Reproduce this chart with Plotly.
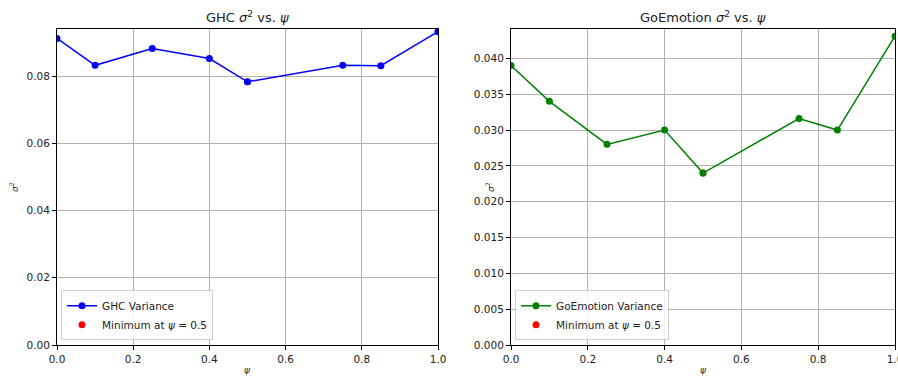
import plotly.graph_objects as go

psi = [0.0, 0.1, 0.25, 0.4, 0.5, 0.75, 0.85, 1.0]
ghc_var = [0.0912, 0.0832, 0.0882, 0.0852, 0.0783, 0.0832, 0.0831, 0.0932]
goe_var = [0.0390, 0.0340, 0.0280, 0.0300, 0.0240, 0.0316, 0.0300, 0.0431]
min_psi = 0.5
ghc_min = 0.0783
goe_min = 0.0240

xticks = [0.0, 0.2, 0.4, 0.6, 0.8, 1.0]
ghc_yticks = [0.0, 0.02, 0.04, 0.06, 0.08]
goe_yticks = [0.0, 0.005, 0.010, 0.015, 0.020, 0.025, 0.030, 0.035, 0.040]

W, H = 898, 376
font = "DejaVu Sans"

fig = go.Figure()

# minimum markers (drawn first, underneath)
fig.add_trace(go.Scatter(x=[min_psi], y=[ghc_min], mode="markers",
                         marker=dict(color="red", size=7), name="Minimum at <i>ψ</i> = 0.5",
                         xaxis="x", yaxis="y", legend="legend", legendrank=2))
fig.add_trace(go.Scatter(x=psi, y=ghc_var, mode="lines+markers",
                         line=dict(color="blue", width=1.5), marker=dict(color="blue", size=7),
                         name="GHC Variance", xaxis="x", yaxis="y", legend="legend", legendrank=1))
fig.add_trace(go.Scatter(x=[min_psi], y=[goe_min], mode="markers",
                         marker=dict(color="red", size=7), name="Minimum at <i>ψ</i> = 0.5",
                         xaxis="x2", yaxis="y2", legend="legend2", legendrank=2))
fig.add_trace(go.Scatter(x=psi, y=goe_var, mode="lines+markers",
                         line=dict(color="green", width=1.5), marker=dict(color="green", size=7),
                         name="GoEmotion Variance", xaxis="x2", yaxis="y2", legend="legend2", legendrank=1))

L1, R1 = 57 / W, 438 / W
L2, R2 = 511 / W, 895 / W

axis_common = dict(showline=True, linecolor="black", linewidth=1, mirror=True,
                   ticks="outside", ticklen=4, tickcolor="black",
                   showgrid=True, gridcolor="#b0b0b0", gridwidth=0.8,
                   zeroline=False, tickfont=dict(size=10.5, family=font, color="#222"),
                   automargin=False, ticklabeloverflow="allow")

legend_common = dict(y=0.015, xanchor="left", yanchor="bottom",
                     bgcolor="rgba(255,255,255,0.85)", bordercolor="#d0d0d0", borderwidth=1,
                     font=dict(size=10.5, family=font, color="#222"), tracegroupgap=0,
                     itemwidth=30)

fig.update_layout(
    width=W, height=H,
    margin=dict(l=0, r=0, t=29, b=31),
    paper_bgcolor="white", plot_bgcolor="white",
    font=dict(family=font, color="#222"),
    xaxis=dict(domain=[L1, R1], range=[0, 1], tickvals=xticks,
               ticktext=[f"{v:.1f}" for v in xticks], anchor="y", **axis_common),
    yaxis=dict(domain=[0, 1], range=[0, 0.094], tickvals=ghc_yticks,
               ticktext=[f"{v:.2f}" for v in ghc_yticks], anchor="x", **axis_common),
    xaxis2=dict(domain=[L2, R2], range=[0, 1], tickvals=xticks,
                ticktext=[f"{v:.1f}" for v in xticks], anchor="y2", **axis_common),
    yaxis2=dict(domain=[0, 1], range=[0, 0.0441], tickvals=goe_yticks,
                ticktext=[f"{v:.3f}" for v in goe_yticks], anchor="x2", **axis_common),
    legend=dict(x=L1 + 4 / W, **legend_common),
    legend2=dict(x=L2 + 4 / W, **legend_common),
    annotations=[
        dict(text="GHC <i>σ</i><sup>2</sup> vs. <i>ψ</i>", x=(L1 + R1) / 2, y=1, xref="paper", yref="paper",
             xanchor="center", yanchor="bottom", yshift=2, showarrow=False, font=dict(size=13, family=font)),
        dict(text="GoEmotion <i>σ</i><sup>2</sup> vs. <i>ψ</i>", x=(L2 + R2) / 2, y=1, xref="paper", yref="paper",
             xanchor="center", yanchor="bottom", yshift=2, showarrow=False, font=dict(size=13, family=font)),
        dict(text="<i>σ</i><sup>2</sup>", x=14 / W, y=0.5, xref="paper", yref="paper", textangle=-90,
             xanchor="center", yanchor="middle", showarrow=False, font=dict(size=9, family=font)),
        dict(text="<i>σ</i><sup>2</sup>", x=490 / W, y=0.5, xref="paper", yref="paper", textangle=-90,
             xanchor="center", yanchor="middle", showarrow=False, font=dict(size=9, family=font)),
        dict(text="<i>ψ</i>", x=(L1 + R1) / 2, y=-25 / 316, xref="paper", yref="paper",
             xanchor="center", yanchor="middle", showarrow=False, font=dict(size=9, family=font)),
        dict(text="<i>ψ</i>", x=(L2 + R2) / 2, y=-25 / 316, xref="paper", yref="paper",
             xanchor="center", yanchor="middle", showarrow=False, font=dict(size=9, family=font)),
    ],
)

fig.write_html("out.html", config={"displayModeBar": False})

# remove default page margin so the figure sits at the window's top-left corner
with open("out.html", "r", encoding="utf-8") as f:
    html = f.read()
html = html.replace("<head>", "<head><style>html,body{margin:0;padding:0;overflow:hidden;}</style>", 1)
with open("out.html", "w", encoding="utf-8") as f:
    f.write(html)
